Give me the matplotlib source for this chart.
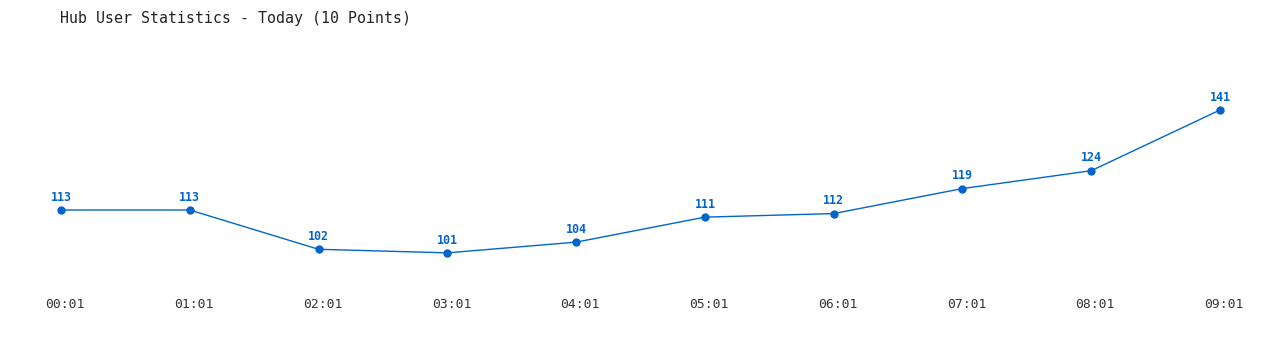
import matplotlib.pyplot as plt
import matplotlib.transforms as mtransforms

times = ['00:01', '01:01', '02:01', '03:01', '04:01', '05:01', '06:01', '07:01', '08:01', '09:01']
users = [113, 113, 102, 101, 104, 111, 112, 119, 124, 141]

blue = '#0066cc'

fig = plt.figure(figsize=(12.8, 3.5), dpi=100)
ax = fig.add_axes([0, 60/350, 1, 290/350])
x = list(range(len(times)))
ax.plot(x, users, color=blue, lw=1, marker='o', ms=5)
for xi, v in zip(x, users):
    ax.annotate(str(v), (xi, v), xytext=(0, 4.5), textcoords='offset points',
                ha='center', va='bottom', color=blue, fontsize=8.4,
                fontweight='bold', family='DejaVu Sans Mono')

ax.set_xlim(-0.4737, 9.466)
ax.set_ylim(90.6, 171.8)
ax.set_xticks(x)
ax.set_xticklabels(times, family='DejaVu Sans Mono', fontsize=9.4, color='#333333')
ax.tick_params(axis='x', length=0, pad=6)
# labels sit a few pixels right of the points
shift = mtransforms.ScaledTranslation(4/100, 0, fig.dpi_scale_trans)
for lbl in ax.get_xticklabels():
    lbl.set_transform(lbl.get_transform() + shift)
ax.set_yticks([])
for s in ax.spines.values():
    s.set_visible(False)

fig.text(60/1280, 1 - 18/350, 'Hub User Statistics - Today (10 Points)',
         family='DejaVu Sans Mono', fontsize=10.7, color='#222222', va='center')

fig.savefig('out.png', dpi=100)
